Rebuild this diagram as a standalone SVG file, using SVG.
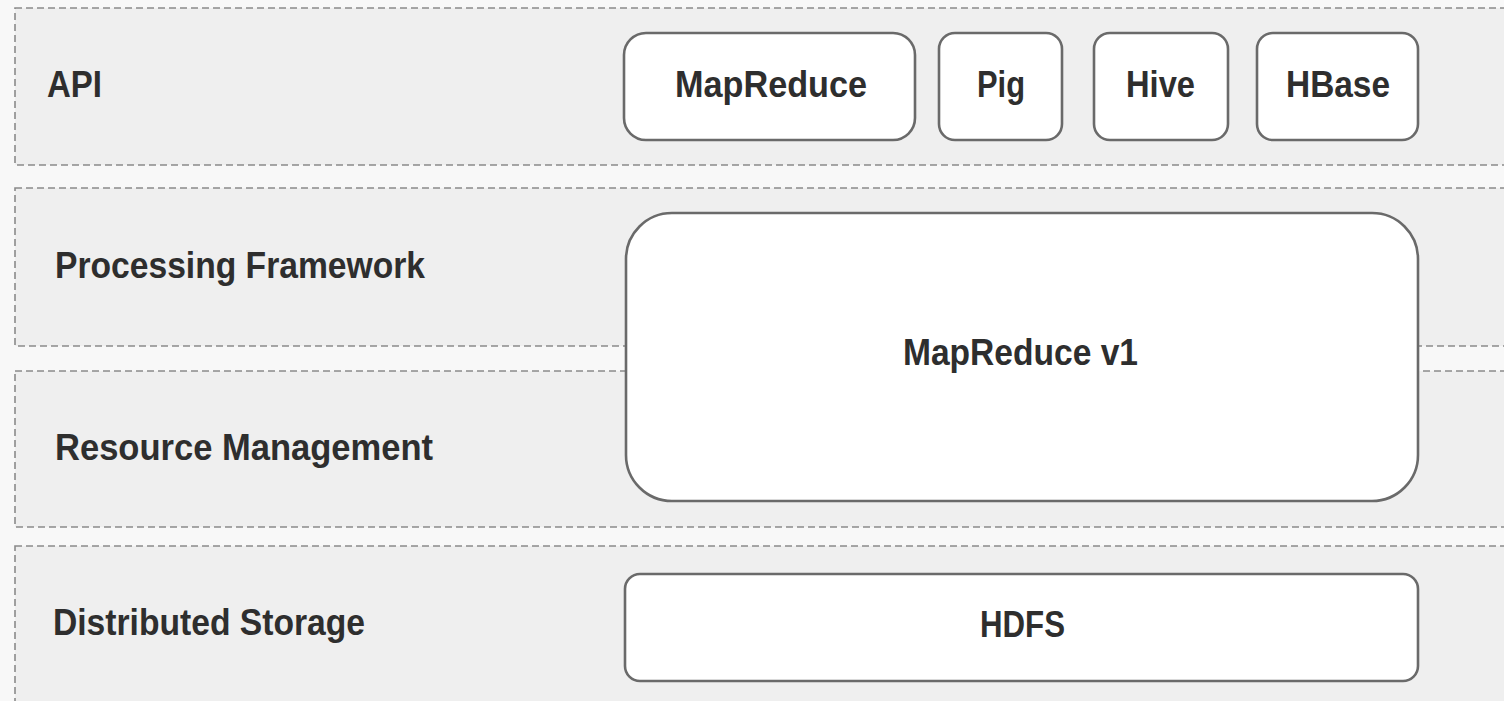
<svg xmlns="http://www.w3.org/2000/svg" width="1504" height="701" viewBox="0 0 1504 701">
<style>
.band{fill:#efefef;stroke:#8a8a8a;stroke-width:1.6;stroke-dasharray:7 4}
.box{fill:#ffffff;stroke:#6a6a6a;stroke-width:2.6}
.lbl{font-family:"Liberation Sans",Arial,sans-serif;font-weight:700;font-size:37px;fill:#2e2e2e}
</style>
<rect x="0" y="0" width="1504" height="701" fill="#f8f8f8"/>
<g id="bands">
<rect id="band-api" class="band" x="15" y="8" width="1510" height="157"/>
<rect id="band-processing" class="band" x="15" y="188" width="1510" height="158"/>
<rect id="band-resource" class="band" x="15" y="371" width="1510" height="156"/>
<rect id="band-storage" class="band" x="15" y="546" width="1510" height="170"/>
</g>
<g id="layer-labels">
<text class="lbl" x="47" y="97" textLength="55" lengthAdjust="spacingAndGlyphs">API</text>
<text class="lbl" x="55" y="278" textLength="370" lengthAdjust="spacingAndGlyphs">Processing Framework</text>
<text class="lbl" x="55" y="460" textLength="378" lengthAdjust="spacingAndGlyphs">Resource Management</text>
<text class="lbl" x="53" y="635" textLength="312" lengthAdjust="spacingAndGlyphs">Distributed Storage</text>
</g>
<g id="node-mapreduce">
<rect class="box" x="624" y="33" width="291" height="107" rx="22"/>
<text class="lbl" x="675" y="97" textLength="192" lengthAdjust="spacingAndGlyphs">MapReduce</text>
</g>
<g id="node-pig">
<rect class="box" x="939" y="33" width="123" height="107" rx="16"/>
<text class="lbl" x="977" y="97" textLength="48" lengthAdjust="spacingAndGlyphs">Pig</text>
</g>
<g id="node-hive">
<rect class="box" x="1094" y="33" width="134" height="107" rx="16"/>
<text class="lbl" x="1126" y="97" textLength="69" lengthAdjust="spacingAndGlyphs">Hive</text>
</g>
<g id="node-hbase">
<rect class="box" x="1257" y="33" width="161" height="107" rx="16"/>
<text class="lbl" x="1286" y="97" textLength="104" lengthAdjust="spacingAndGlyphs">HBase</text>
</g>
<g id="node-mapreduce-v1">
<rect class="box" x="626" y="213" width="792" height="288" rx="46"/>
<text class="lbl" x="903" y="365" textLength="235" lengthAdjust="spacingAndGlyphs">MapReduce v1</text>
</g>
<g id="node-hdfs">
<rect class="box" x="625" y="574" width="793" height="107" rx="15"/>
<text class="lbl" x="980" y="637" textLength="85" lengthAdjust="spacingAndGlyphs">HDFS</text>
</g>
<g id="connectors"></g>
</svg>
